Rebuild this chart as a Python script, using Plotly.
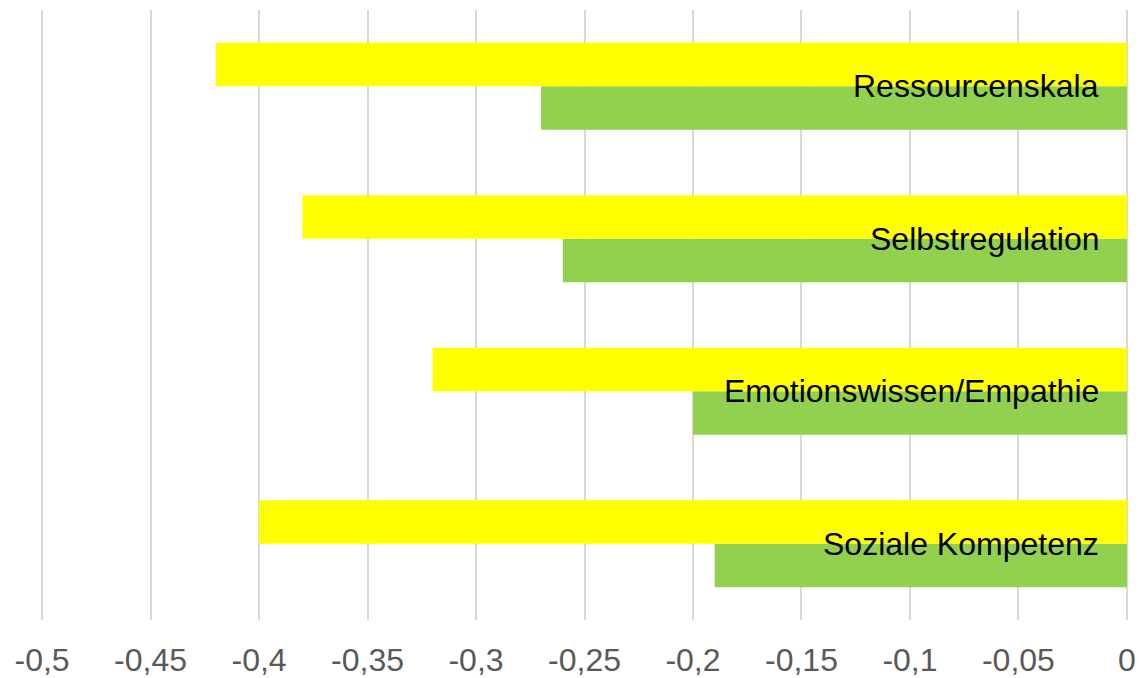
import plotly.graph_objects as go

# Categories listed bottom-to-top as Plotly draws them on a category y axis
categories = ["Soziale Kompetenz", "Emotionswissen/Empathie", "Selbstregulation", "Ressourcenskala"]
green_values = [-0.19, -0.20, -0.26, -0.27]
yellow_values = [-0.40, -0.32, -0.38, -0.42]

tick_values = [-0.5, -0.45, -0.4, -0.35, -0.3, -0.25, -0.2, -0.15, -0.1, -0.05, 0]
tick_labels = ["-0,5", "-0,45", "-0,4", "-0,35", "-0,3", "-0,25", "-0,2", "-0,15", "-0,1", "-0,05", "0"]

fig = go.Figure()
fig.add_trace(go.Bar(
    y=categories, x=green_values, orientation="h",
    marker=dict(color="#92D050", line=dict(width=0)),
    showlegend=False, hoverinfo="x+y",
))
fig.add_trace(go.Bar(
    y=categories, x=yellow_values, orientation="h",
    marker=dict(color="#FFFF00", line=dict(width=0)),
    showlegend=False, hoverinfo="x+y",
))

# Category names sit inside the bars, right-aligned next to the zero line
for cat in categories:
    fig.add_annotation(
        x=0, y=cat, xref="x", yref="y",
        text=cat, showarrow=False,
        xanchor="right", yanchor="middle", xshift=-26, yshift=0,
        font=dict(family="Liberation Sans, Arial, sans-serif", size=32, color="#000000"),
    )

fig.update_layout(
    width=1141, height=678,
    margin=dict(l=41, r=13, t=10, b=58),
    paper_bgcolor="white", plot_bgcolor="white",
    barmode="group", bargap=0.43, bargroupgap=0,
    font=dict(family="Liberation Sans, Arial, sans-serif"),
)
fig.update_xaxes(
    automargin=False,
    range=[-0.5005, 0.0005], tickvals=tick_values, ticktext=tick_labels,
    showgrid=True, gridcolor="#D9D9D9", gridwidth=2,
    zeroline=False, showline=False,
    ticks="outside", ticklen=12, tickcolor="rgba(0,0,0,0)",
    tickfont=dict(size=32, color="#595959"),
)
fig.update_yaxes(
    automargin=False,
    showticklabels=False, showgrid=False, zeroline=False, showline=False,
    categoryorder="array", categoryarray=categories,
)

fig.write_html("out.html")
